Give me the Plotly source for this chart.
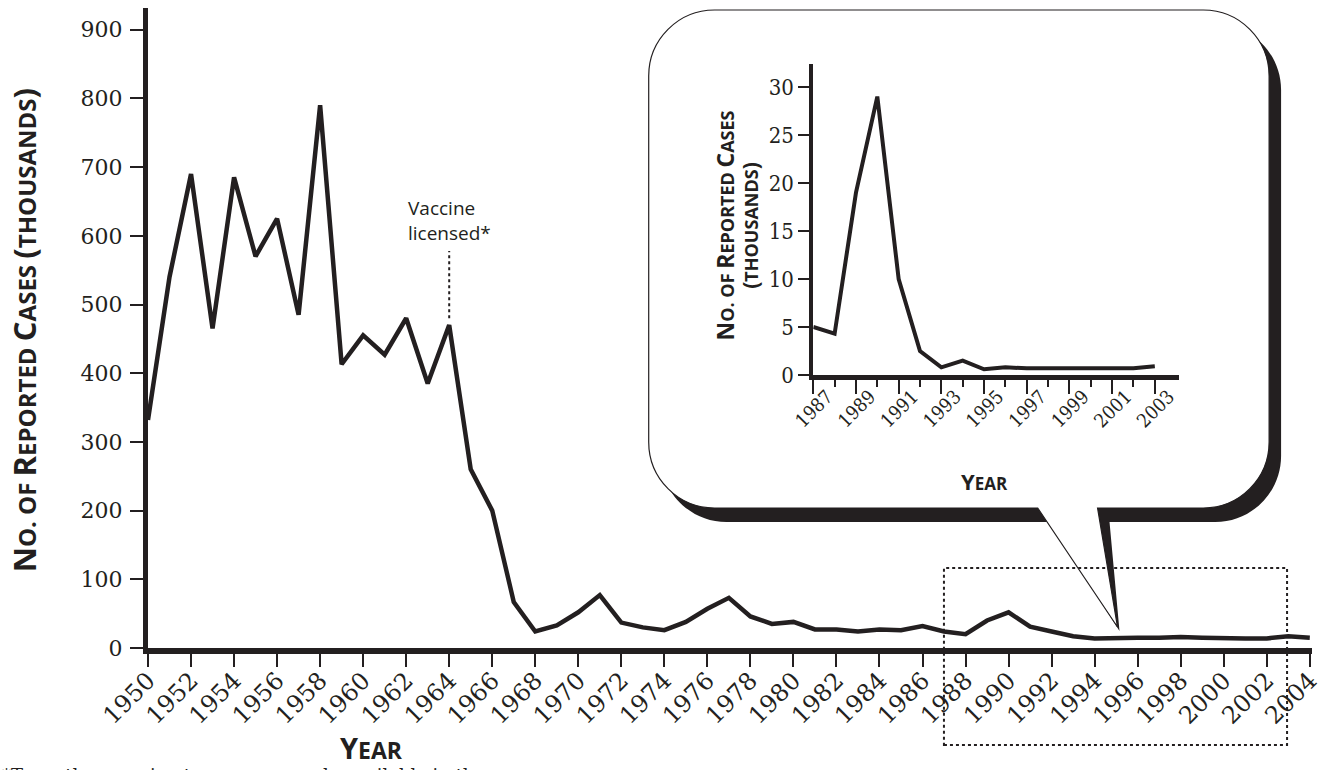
import plotly.graph_objects as go

# ---------------- data ----------------
years_main = list(range(1950, 2005))
cases_main = [332, 540, 690, 465, 685, 570, 625, 485, 790, 413,
              455, 427, 480, 385, 470, 260, 200, 67, 24, 33,
              52, 77, 37, 30, 26, 38, 57, 73, 46, 35,
              38, 27, 27, 24, 27, 26, 32, 24, 20, 40,
              52, 31, 24, 17, 14, 15, 15, 15, 16, 15,
              14, 14, 14, 17, 15]

years_inset = list(range(1987, 2004))
cases_inset = [5.0, 4.3, 19.0, 29.0, 10.0, 2.5, 0.8, 1.5, 0.6, 0.8,
               0.7, 0.7, 0.8, 0.7, 0.7, 0.7, 0.9]

main_xticks = list(range(1950, 2005, 2))
main_yticks = list(range(0, 1000, 100))
inset_xticks = list(range(1987, 2004, 2))
inset_xminor = list(range(1988, 2003, 2))
inset_yticks = list(range(0, 35, 5))

INK = "#231f20"
SERIF = "DejaVu Serif"
SERIF_C = "DejaVu Serif Condensed, DejaVu Serif"
SANS = "Open Sans"

# ---------------- pixel helpers for decorations ----------------
W, H = 1331, 770
L, R, T, B = 148, 1315, 8, 648
PW, PH = R - L, B - T


def px(X):
    return (X - L) / PW


def py(Y):
    return (B - Y) / PH


def pt(X, Y):
    return f"{px(X):.5f},{py(Y):.5f}"


def smallcaps(text, big, small):
    """Fake small caps: capitals at `big` px, lower-case as capitals at `small` px."""
    out, run, cls = [], "", None
    for ch in text:
        c = "s" if (ch.islower() or ch in ". ") else "b"
        if c != cls and run:
            out.append((cls, run))
            run = ""
        cls = c
        run += ch
    if run:
        out.append((cls, run))
    html = ""
    for c, r in out:
        size = small if c == "s" else big
        html += f'<span style="font-size:{size}px">{r.upper()}</span>'
    return html


def bubble_path(x0, y0, x1, y1, r, tl, tr, tip):
    k = 0.5523 * r
    p = [
        "M" + pt(x0 + r, y0),
        "L" + pt(x1 - r, y0),
        "C" + pt(x1 - r + k, y0) + " " + pt(x1, y0 + r - k) + " " + pt(x1, y0 + r),
        "L" + pt(x1, y1 - r),
        "C" + pt(x1, y1 - r + k) + " " + pt(x1 - r + k, y1) + " " + pt(x1 - r, y1),
        "L" + pt(tr, y1),
        "L" + pt(*tip),
        "L" + pt(tl, y1),
        "L" + pt(x0 + r, y1),
        "C" + pt(x0 + r - k, y1) + " " + pt(x0, y1 - r + k) + " " + pt(x0, y1 - r),
        "L" + pt(x0, y0 + r),
        "C" + pt(x0, y0 + r - k) + " " + pt(x0 + r - k, y0) + " " + pt(x0 + r, y0),
        "Z",
    ]
    return " ".join(p)


bx0, by0, bx1, by1, br = 650, 10, 1272, 508, 66
dx, dy = 12, 14
shadow = bubble_path(bx0 + dx, by0 + dy, bx1 + dx, by1 + dy, br,
                     1040 + dx, 1100 + dx, (1122, 631))
bubble = bubble_path(bx0, by0, bx1, by1, br, 1040, 1100, (1120, 627))

# ---------------- figure ----------------
fig = go.Figure()

fig.add_trace(go.Scatter(
    x=years_main, y=cases_main, mode="lines",
    line=dict(color=INK, width=4.5), cliponaxis=False,
    xaxis="x", yaxis="y", showlegend=False, hoverinfo="skip"))

fig.add_trace(go.Scatter(
    x=years_inset, y=cases_inset, mode="lines",
    line=dict(color=INK, width=4), cliponaxis=False,
    xaxis="x2", yaxis="y2", showlegend=False, hoverinfo="skip"))

shapes = [
    dict(type="path", xref="paper", yref="paper", path=shadow,
         fillcolor=INK, line=dict(width=0), layer="below"),
    dict(type="path", xref="paper", yref="paper", path=bubble,
         fillcolor="white", line=dict(color=INK, width=1.2), layer="below"),
    # dotted zoom rectangle
    dict(type="rect", xref="paper", yref="paper",
         x0=px(946), x1=px(1290), y0=py(745), y1=py(568),
         line=dict(color=INK, width=2, dash="dot"), fillcolor="rgba(0,0,0,0)"),
    # vaccine licensed marker
    dict(type="line", xref="x", yref="y", x0=1964, x1=1964, y0=480, y1=578,
         line=dict(color=INK, width=2, dash="dot")),
]

annotations = [
    dict(text=smallcaps("No. of Reported Cases (thousands)", 31, 24),
         xref="paper", yref="paper", x=px(24), y=py(330), textangle=-90,
         xanchor="center", yanchor="middle", showarrow=False,
         font=dict(family=SANS, size=24, color=INK, weight=700)),
    dict(text=smallcaps("Year", 29, 23), xref="paper", yref="paper",
         x=px(372), y=py(747), xanchor="center", yanchor="middle",
         showarrow=False,
         font=dict(family=SANS, size=23, color=INK, weight=700)),
    dict(text="Vaccine<br>licensed*", xref="x", yref="y", x=1964, y=582,
         xanchor="center", yanchor="bottom", align="left", showarrow=False,
         font=dict(family=SANS, size=19, color=INK)),
    dict(text=smallcaps("No. of Reported Cases", 23, 18) + "<br>"
         + smallcaps("(thousands)", 21, 18),
         xref="paper", yref="paper", x=px(738), y=py(225), textangle=-90,
         xanchor="center", yanchor="middle", showarrow=False,
         font=dict(family=SANS, size=18, color=INK, weight=700)),
    dict(text=smallcaps("Year", 22, 17), xref="paper", yref="paper",
         x=px(987), y=py(481), xanchor="center", yanchor="middle",
         showarrow=False,
         font=dict(family=SANS, size=17, color=INK, weight=700)),
    dict(text="*Two other vaccine types were made available in the same year.",
         xref="paper", yref="paper", x=px(0), y=py(763), xanchor="left",
         yanchor="top", showarrow=False,
         font=dict(family=SERIF, size=18, color=INK)),
]

fig.update_layout(
    width=W, height=H,
    margin=dict(l=L, r=W - R, t=T, b=H - B, pad=0),
    paper_bgcolor="white", plot_bgcolor="rgba(0,0,0,0)",
    shapes=shapes, annotations=annotations,
    xaxis=dict(range=[1950, 1950 + PW / 21.57], tickmode="array",
               tickvals=main_xticks, ticktext=[str(v) for v in main_xticks],
               tickangle=-45, ticks="outside", ticklen=13, tickwidth=2,
               tickcolor=INK, showline=True, linewidth=6, linecolor=INK,
               showgrid=False, zeroline=False, ticklabelstandoff=-10,
               tickfont=dict(family=SERIF, size=24, color=INK)),
    yaxis=dict(range=[0, PH / 0.687], tickmode="array", tickvals=main_yticks,
               ticks="outside", ticklen=13, tickwidth=2, tickcolor=INK,
               showline=True, linewidth=5, linecolor=INK,
               showgrid=False, zeroline=False, ticklabelstandoff=3,
               tickfont=dict(family=SERIF, size=22, color=INK)),
    xaxis2=dict(domain=[px(815), px(1182)], anchor="y2",
                range=[1987, 1987 + (1182 - 815) / 21.4], tickmode="array",
                tickvals=inset_xticks, tickangle=-45, ticks="outside",
                ticklen=14, tickwidth=2, tickcolor=INK,
                minor=dict(tickmode="array", tickvals=inset_xminor,
                           ticks="outside", ticklen=7, tickwidth=2, tickcolor=INK),
                showline=True, linewidth=5, linecolor=INK,
                showgrid=False, zeroline=False, ticklabelstandoff=-16,
                ticklabelshift=14,
                tickfont=dict(family=SERIF_C, size=19, color=INK)),
    yaxis2=dict(domain=[py(375), py(64)], anchor="x2",
                range=[0, (375 - 64) / 9.6], tickmode="array",
                tickvals=inset_yticks, ticks="outside", ticklen=11,
                tickwidth=2, tickcolor=INK, showline=True, linewidth=4,
                linecolor=INK, showgrid=False, zeroline=False,
                tickfont=dict(family=SERIF_C, size=22, color=INK)),
)

fig.write_html("out.html",
               config={"displayModeBar": False},
               post_script="document.body.style.margin='0';"
                           "document.body.style.overflow='hidden';")
